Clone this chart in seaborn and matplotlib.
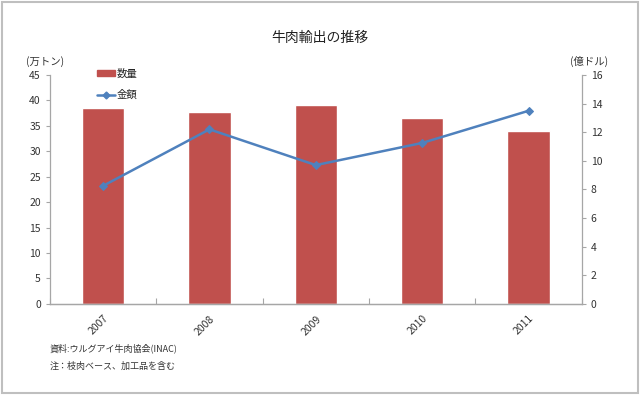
import matplotlib
matplotlib.use('Agg')
import matplotlib.pyplot as plt
import seaborn as sns
import pandas as pd
from matplotlib.patches import Rectangle
from matplotlib.lines import Line2D

years = ['2007', '2008', '2009', '2010', '2011']
volume = [38.5, 37.7, 39.1, 36.5, 34.0]      # 万トン
value = [8.25, 12.2, 9.7, 11.25, 13.5]       # 億ドル

df = pd.DataFrame({'year': years, 'volume': volume, 'value': value})

sns.set_theme(style="white")
plt.rcParams['font.family'] = ['Noto Sans CJK JP', 'DejaVu Sans']

bar_color = '#C0504D'
line_color = '#4F81BD'
axis_grey = '#A6A6A6'

fig = plt.figure(figsize=(6.4, 3.95), dpi=100)
ax = fig.add_axes([0.078, 0.231, 0.831, 0.579])

sns.barplot(x='year', y='volume', data=df, color=bar_color, width=0.4,
            saturation=1, ax=ax)
ax.set_ylim(0, 45)
ax.set_yticks(range(0, 46, 5))
ax.set_xlim(-0.5, 4.5)
ax.set_xlabel('')
ax.set_ylabel('')

ax2 = ax.twinx()
sns.lineplot(x='year', y='value', data=df, color=line_color, marker='D',
             markersize=4, markeredgecolor=line_color, linewidth=1.8,
             sort=False, ax=ax2)
ax2.set_ylim(0, 16)
ax2.set_yticks(range(0, 17, 2))
ax2.set_xlim(-0.5, 4.5)
ax2.set_ylabel('')
ax2.set_xlabel('')

for a in (ax, ax2):
    for s in a.spines.values():
        s.set_color(axis_grey)
        s.set_linewidth(0.9)
    a.spines['top'].set_visible(False)
    a.tick_params(labelsize=7.5, colors='#333333', length=3, width=0.8,
                  color=axis_grey)
ax.spines['right'].set_visible(False)
ax2.spines['left'].set_visible(False)
ax.tick_params(axis='y', left=True, direction='out')
ax2.tick_params(axis='y', right=True, direction='out')

# category ticks between bars, labels rotated
ax.set_xticks(range(len(years)))
ax.set_xticklabels(years, rotation=45, fontsize=7.5, ha='right',
                   rotation_mode='anchor')
ax.tick_params(axis='x', length=0, pad=7)
ax.set_xticks([i + 0.5 for i in range(-1, len(years))], minor=True)
ax.tick_params(axis='x', which='minor', bottom=True, length=4, width=0.8,
               color=axis_grey, direction='in')

fig.text(0.5, 0.905, '牛肉輸出の推移', ha='center', va='center', fontsize=10,
         color='#222222')
fig.text(0.07, 0.845, '(万トン)', ha='center', va='center', fontsize=7.5,
         color='#333333')
fig.text(0.921, 0.845, '(億ドル)', ha='center', va='center', fontsize=7.5,
         color='#333333')

handles = [Rectangle((0, 0), 1, 1, color=bar_color),
           Line2D([], [], color=line_color, marker='D', markersize=3.5,
                  linewidth=1.8)]
fig.legend(handles, ['数量', '金額'], loc='upper left',
           bbox_to_anchor=(0.137, 0.85), frameon=False, fontsize=7.5,
           handlelength=1.7, handleheight=0.5, labelspacing=1.05,
           handletextpad=0.2)

fig.text(0.078, 0.117, '資料:ウルグアイ牛肉協会(INAC)', ha='left', va='center',
         fontsize=6.5, color='#333333')
fig.text(0.078, 0.073, '注：枝肉ベース、加工品を含む', ha='left', va='center',
         fontsize=6.5, color='#333333')

fig.patches.append(Rectangle((0.003, 0.004), 0.994, 0.992,
                             transform=fig.transFigure, fill=False,
                             edgecolor='#BFBFBF', linewidth=1.5))

fig.savefig('out.png', dpi=100, facecolor='white')
